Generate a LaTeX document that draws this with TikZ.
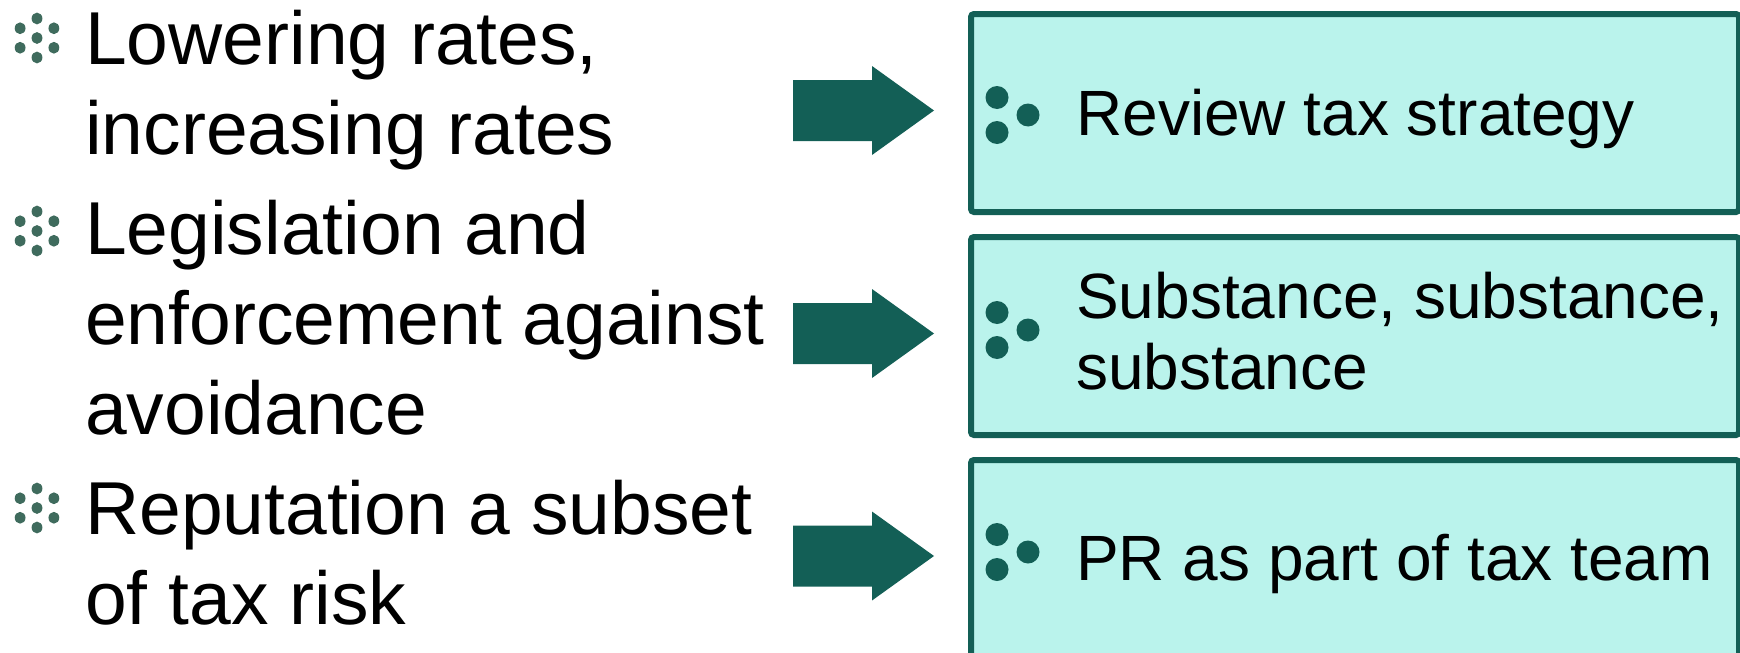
\documentclass[tikz,border=0pt]{standalone}
\usepackage{fontspec}
\setmainfont{Liberation Sans}
\definecolor{darkteal}{HTML}{135F56}
\definecolor{panelfill}{HTML}{BAF3EC}
\definecolor{bulletgreen}{HTML}{3F6B5D}
\tikzset{
  lefttext/.style={anchor=base west, inner sep=0pt, font=\fontsize{75}{90}\selectfont},
  boxtext/.style={anchor=base west, inner sep=0pt, font=\fontsize{64}{73}\selectfont},
  panel/.style={draw=darkteal, fill=panelfill, line width=6pt, rounded corners=3pt,
    anchor=north west, minimum width=768pt, minimum height=198pt, inner sep=0pt},
  hexbullet/.pic={
    \foreach \a in {90,150,210,270,330,30}
      \fill[bulletgreen] (\a:19.5) circle[x radius=5.4pt, y radius=5.9pt];
    \fill[bulletgreen] (0,0) circle[x radius=5.4pt, y radius=5.9pt];
  },
  tridots/.pic={
    \fill[darkteal] (0,-17.5) circle[radius=11.5pt] (0,17.5) circle[radius=11.5pt] (31,0) circle[radius=11.5pt];
  }
}
\begin{document}
\begin{tikzpicture}[x=1pt,y=-1pt]
\useasboundingbox (0,0) rectangle (1740,653);
\clip (0,0) rectangle (1740,653);

% left bullets and text
\pic at (37,38) {hexbullet};
\node[lefttext] (l1a) at (85,64) {Lowering rates,};
\node[lefttext] (l1b) at (85,154) {increasing rates};
\pic at (37,231) {hexbullet};
\node[lefttext] (l2a) at (85,254) {Legislation and};
\node[lefttext] (l2b) at (85,344) {enforcement against};
\node[lefttext] (l2c) at (85,434) {avoidance};
\pic at (37,508) {hexbullet};
\node[lefttext] (l3a) at (85,534) {Reputation a subset};
\node[lefttext] (l3b) at (85,624) {of tax risk};

% block arrows
\foreach \n/\c in {1/110.5, 2/333.5, 3/556}{
  \coordinate (arr\n) at (793,\c);
  \fill[darkteal] (arr\n) ++(0,-30.5) -- ++(79,0) -- ++(0,-14) -- ++(62,44.5)
    -- ++(-62,44.5) -- ++(0,-14) -- ++(-79,0) -- cycle;
}

% panels
\node[panel] (p1) at (968,11) {};
\node[panel] (p2) at (968,234) {};
\node[panel] (p3) at (968,457) {};

\pic at (997,115) {tridots};
\node[boxtext] (t1) at (1076,135) {Review tax strategy};
\pic at (997,330) {tridots};
\node[boxtext] (t2a) at (1076,318) {Substance, substance,};
\node[boxtext] (t2b) at (1076,389) {substance};
\pic at (997,552) {tridots};
\node[boxtext] (t3) at (1076,580) {PR as part of tax team};
\end{tikzpicture}
\end{document}
